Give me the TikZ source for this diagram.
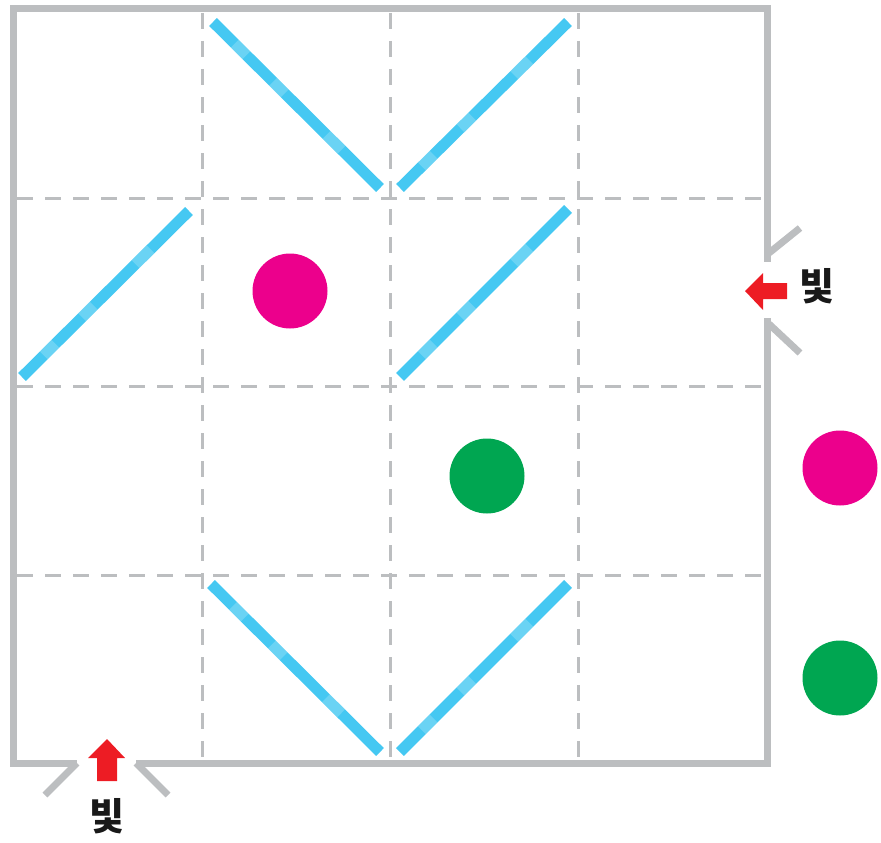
\documentclass[tikz,border=0pt]{standalone}
\usepackage{fontspec}
\newfontfamily\kofont{Noto Sans CJK KR}
\usepackage{tikz}
\usetikzlibrary{calc}

\definecolor{wallgray}{HTML}{BCBEC0}
\definecolor{mirrorblue}{HTML}{45C8F2}
\definecolor{lightred}{HTML}{ED1C24}
\definecolor{ballpink}{HTML}{EC008C}
\definecolor{ballgreen}{HTML}{00A651}

\begin{document}
\begin{tikzpicture}[
    x=1pt, y=-1pt,
    wall/.style={draw=wallgray, line width=7pt},
    gridline/.style={draw=wallgray, line width=3pt, dash pattern=on 16pt off 12pt},
    mirror/.style={draw=mirrorblue, line width=11pt},
    shine/.style={draw=white, opacity=0.2, line width=11pt},
    ray/.style={fill=lightred, draw=none},
    ball/.style={circle, minimum size=75pt, inner sep=0pt},
    lbl/.style={font=\kofont\bfseries\fontsize{38}{38}\selectfont, text=black!90, inner sep=0pt}
]
    \useasboundingbox (0,0) rectangle (881,843);

    % grid
    \foreach \g in {202,390,578} {
        \draw[gridline] (\g,13) -- (\g,760);
    }
    \foreach \g in {198,386,575} {
        \draw[gridline] (17,\g) -- (764,\g);
    }

    % walls with two openings
    \draw[wall, line join=miter] (77,763) -- (13,763) -- (13,9) -- (767,9) -- (767,262);
    \draw[wall] (767,318) -- (767,763) -- (136,763);
    \draw[wall] (769,253) -- (800,228);
    \draw[wall] (769,324) -- (800,353);
    \draw[wall] (77,763) -- (45,795);
    \draw[wall] (136,763) -- (168,795);

    % mirrors
    \foreach \ax/\ay/\bx/\by in {213/22/380/188, 400/188/568/22, 22/377/189/211,
                                 400/377/568/209, 211/584/380/752, 400/752/568/584} {
        \coordinate (m1) at (\ax,\ay);
        \coordinate (m2) at (\bx,\by);
        \draw[mirror] (m1) -- (m2);
        \draw[shine] ($(m1)!0.13!(m2)$) -- ($(m1)!0.20!(m2)$);
        \draw[shine] ($(m1)!0.36!(m2)$) -- ($(m1)!0.43!(m2)$);
        \draw[shine] ($(m1)!0.68!(m2)$) -- ($(m1)!0.77!(m2)$);
    }

    % balls
    \node[ball, fill=ballpink] (pink1) at (290,291) {};
    \node[ball, fill=ballgreen] (green1) at (487,476) {};
    \node[ball, fill=ballpink] (pink2) at (840,468) {};
    \node[ball, fill=ballgreen] (green2) at (840,678) {};

    % light arrows
    \fill[ray] (745,291) -- (763,273) -- (763,283) -- (787,283) -- (787,299) -- (763,299) -- (763,310) -- cycle;
    \node[lbl] (light1) at (817,286) {빛};
    \fill[ray] (107,739) -- (125,758) -- (117,758) -- (117,781) -- (97,781) -- (97,758) -- (88,758) -- cycle;
    \node[lbl] (light2) at (107,816) {빛};
\end{tikzpicture}
\end{document}
